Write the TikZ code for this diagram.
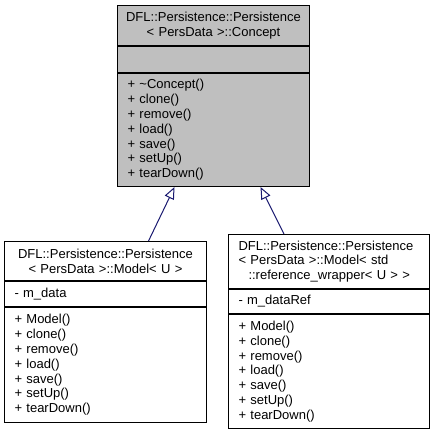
\documentclass[tikz,border=0pt]{standalone}
\usepackage{fontspec}
\setmainfont{Liberation Sans}
\usetikzlibrary{arrows.meta,positioning}
\definecolor{edgeblue}{RGB}{25,25,112}
\definecolor{basegray}{RGB}{191,191,191}

\begin{document}
\begin{tikzpicture}[x=1pt,y=-1pt,
  >={Triangle[open,length=12pt,width=10pt,fill=white]},
  part/.style={draw,line width=1pt,anchor=north west,inner ysep=0pt,
    font=\fontsize{13}{14.8}\selectfont},
  head/.style={part,inner xsep=0pt,text width=#1,align=center},
  body/.style={part,inner xsep=10pt,text width=#1,align=left},
  base/.style={fill=basegray},
  inh/.style={->,draw=edgeblue,line width=1pt}
]
\useasboundingbox (0,0) rectangle (435,433);
\node[head=192pt,base,minimum height=40pt] (cT) at (117,5)
  {DFL::Persistence::Persistence\\< PersData >::Concept};
\node[body=172pt,base,minimum height=26pt] (cA) at (cT.south west) {};
\node[body=172pt,base,minimum height=113pt] (cM) at (cA.south west)
  {+ \textasciitilde Concept()\\+ clone()\\+ remove()\\+ load()\\+ save()\\+ setUp()\\+ tearDown()};
\node[head=202pt,minimum height=39pt] (mT) at (4,241)
  {DFL::Persistence::Persistence\\< PersData >::Model< U >};
\node[body=182pt,minimum height=25pt] (mA) at (mT.south west) {- m\_data};
\node[body=182pt,minimum height=115pt] (mM) at (mA.south west)
  {+ Model()\\+ clone()\\+ remove()\\+ load()\\+ save()\\+ setUp()\\+ tearDown()};
\node[body=181pt,minimum height=54pt] (rT) at (228,234)
  {DFL::Persistence::Persistence\\< PersData >::Model< std\\\hspace*{10pt}::reference\_wrapper< U > >};
\node[body=181pt,minimum height=24pt] (rA) at (rT.south west) {- m\_dataRef};
\node[body=181pt,minimum height=114pt] (rM) at (rA.south west)
  {+ Model()\\+ clone()\\+ remove()\\+ load()\\+ save()\\+ setUp()\\+ tearDown()};
\draw[inh] ([xshift=43pt]mT.north) -- ([xshift=-39pt]cM.south);
\draw[inh] ([xshift=-45pt]rT.north) -- ([xshift=47pt]cM.south);
\end{tikzpicture}
\end{document}
